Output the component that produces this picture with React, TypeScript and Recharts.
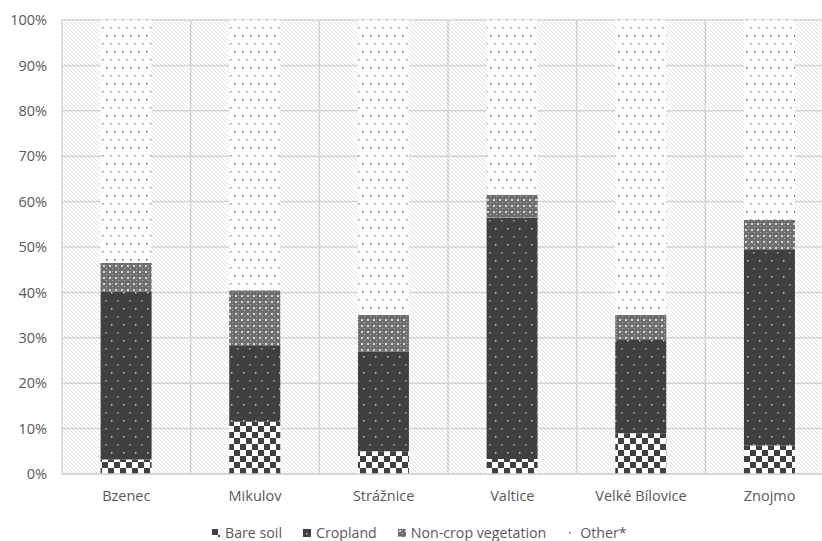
import React from "react";
import { BarChart, Bar, XAxis, YAxis, CartesianGrid } from "recharts";

const sites = ["Bzenec", "Mikulov", "Strážnice", "Valtice", "Velké Bílovice", "Znojmo"];
const bareSoil = [3.2, 11.5, 5.0, 3.3, 9.0, 6.3];
const cropland = [37.0, 16.7, 22.0, 53.2, 20.5, 43.2];
const nonCrop = [6.3, 12.3, 8.0, 5.0, 5.5, 6.5];
const other = [53.5, 59.5, 65.0, 38.5, 65.0, 44.0];
const yTicks = [0, 10, 20, 30, 40, 50, 60, 70, 80, 90, 100];

const data = sites.map((name, i) => ({
  name,
  bare: bareSoil[i],
  crop: cropland[i],
  noncrop: nonCrop[i],
  other: other[i],
}));

const series = [
  { key: "bare", label: "Bare soil", fill: "url(#pBare)" },
  { key: "crop", label: "Cropland", fill: "url(#pCrop)" },
  { key: "noncrop", label: "Non-crop vegetation", fill: "url(#pNon)" },
  { key: "other", label: "Other*", fill: "url(#pOther)" },
];

const FONT = "'Open Sans', sans-serif";
const TEXT = "#595959";
const GRID = "#d4d4d4";

function Patterns() {
  return (
    <svg width={0} height={0} style={{ position: "absolute" }}>
      <defs>
        <pattern id="pHatch" patternUnits="userSpaceOnUse" width={4} height={4}>
          <rect width={4} height={4} fill="#ffffff" />
          <path d="M-1,-1 L5,5 M-1,3 L1,5 M3,-1 L5,1" stroke="#dcdcdc" strokeWidth={0.9} />
        </pattern>
        <pattern id="pOther" patternUnits="userSpaceOnUse" width={8} height={16}>
          <rect width={8} height={16} fill="#ffffff" />
          <rect x={2} y={3} width={1.5} height={1.5} fill="#5a5a5a" />
          <rect x={6} y={11} width={1.5} height={1.5} fill="#8a8a8a" />
        </pattern>
        <pattern id="pCrop" patternUnits="userSpaceOnUse" width={12} height={16}>
          <rect width={12} height={16} fill="#404040" />
          <rect x={3} y={4} width={1.5} height={1.5} fill="#d0d0d0" />
          <rect x={9} y={12} width={1.5} height={1.5} fill="#a8a8a8" />
        </pattern>
        <pattern id="pNon" patternUnits="userSpaceOnUse" width={6} height={6}>
          <rect width={6} height={6} fill="#6e6e6e" />
          <rect x={1} y={1} width={2} height={2} fill="#d8d8d8" />
          <rect x={4} y={4} width={1} height={1} fill="#bcbcbc" />
          <rect x={4} y={1} width={1} height={1} fill="#a0a0a0" />
        </pattern>
        <pattern id="pBare" patternUnits="userSpaceOnUse" width={12} height={12}>
          <rect width={12} height={12} fill="#ffffff" />
          <rect x={0} y={0} width={6} height={6} fill="#404040" />
          <rect x={6} y={6} width={6} height={6} fill="#404040" />
        </pattern>
      </defs>
    </svg>
  );
}

export default function App() {
  return (
    <div
      style={{
        position: "absolute",
        left: 0,
        top: 0,
        width: 822,
        height: 541,
        overflow: "hidden",
        background: "#ffffff",
        fontFamily: FONT,
      }}
    >
      <Patterns />
      <BarChart
        width={842}
        height={541}
        data={data}
        margin={{ top: 20, right: 8, bottom: 37, left: 0 }}
        barCategoryGap="30%"
      >
        <CartesianGrid
          stroke={GRID}
          strokeWidth={1.5}
          fill="url(#pHatch)"
          fillOpacity={1}
          verticalCoordinatesGenerator={({ offset }: any) =>
            sites.map((_, i) => offset.left + (i * offset.width) / sites.length).concat(offset.left + offset.width)
          }
        />
        <XAxis
          dataKey="name"
          height={30}
          tickSize={0}
          tickMargin={17}
          axisLine={{ stroke: GRID, strokeWidth: 1.5 }}
          tick={{ fontSize: 14.5, fill: TEXT, fontFamily: FONT }}
          interval={0}
        />
        <YAxis
          width={62}
          domain={[0, 100]}
          ticks={yTicks}
          tickFormatter={(v) => `${v}%`}
          tickSize={0}
          tickMargin={15}
          axisLine={false}
          tick={{ fontSize: 14.5, fill: TEXT, fontFamily: FONT }}
        />
        {series.map((s) => (
          <Bar key={s.key} dataKey={s.key} name={s.label} stackId="a" fill={s.fill} isAnimationActive={false} />
        ))}
      </BarChart>
      <div
        style={{
          position: "absolute",
          left: 212,
          top: 523,
          display: "flex",
          alignItems: "center",
          fontSize: 14.2,
          color: TEXT,
          whiteSpace: "nowrap",
        }}
      >
        {series.map((s, i) => (
          <div
            key={s.key}
            style={{ display: "flex", alignItems: "center", marginRight: i === series.length - 1 ? 0 : 21 }}
          >
            <svg width={8} height={8} style={{ marginRight: 5 }}>
              <rect width={8} height={8} fill={s.fill} />
            </svg>
            <span>{s.label}</span>
          </div>
        ))}
      </div>
    </div>
  );
}
